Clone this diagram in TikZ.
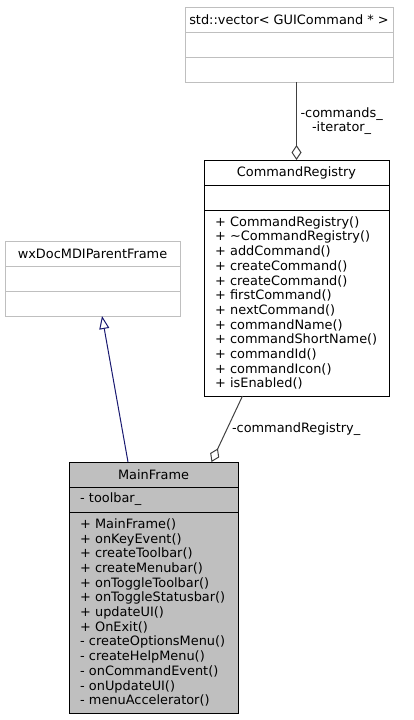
\documentclass[tikz,border=0pt]{standalone}
\usepackage{fontspec}
\setmainfont{DejaVu Sans}
\usepackage{tikz}
\usetikzlibrary{arrows.meta,positioning,calc}
\definecolor{umlgray}{RGB}{191,191,191}
\definecolor{umlnavy}{RGB}{25,25,112}
\definecolor{umledge}{RGB}{64,64,64}

\begin{document}
\begin{tikzpicture}[x=1pt, y=-1pt, node distance=0pt,
  every node/.style={font=\fontsize{12.9}{14.7}\selectfont, outer sep=0pt, line width=1pt},
  cls/.style={draw, minimum height=25pt, inner sep=0pt},
  ops/.style={cls, align=left, inner xsep=11pt},
  aggr/.style={draw=umledge, line width=1pt, {Diamond[open,length=15pt,width=10pt]}-},
  inherit/.style={draw=umlnavy, line width=1pt, -{Triangle[open,length=13pt,width=10pt]}}]
\useasboundingbox (0,0) rectangle (413,720);
% std::vector
\node[cls, draw=umlgray, minimum width=208pt, anchor=north] (vec) at (289,7) {std::vector< GUICommand * >};
\node[cls, draw=umlgray, minimum width=208pt, below=of vec] (vecattr) {};
\node[cls, draw=umlgray, minimum width=208pt, below=of vecattr] (vecops) {};
% CommandRegistry
\node[cls, minimum width=185pt, anchor=north] (reg) at (296.5,160) {CommandRegistry};
\node[cls, minimum width=185pt, below=of reg] (regattr) {};
\node[ops, text width=163pt, minimum height=186pt, below=of regattr] (regops) {+ CommandRegistry()\\+ \textasciitilde CommandRegistry()\\+ addCommand()\\+ createCommand()\\+ createCommand()\\+ firstCommand()\\+ nextCommand()\\+ commandName()\\+ commandShortName()\\+ commandId()\\+ commandIcon()\\+ isEnabled()};
% wxDocMDIParentFrame
\node[cls, draw=umlgray, minimum width=175pt, anchor=north] (wx) at (92.5,241) {wxDocMDIParentFrame};
\node[cls, draw=umlgray, minimum width=175pt, below=of wx] (wxattr) {};
\node[cls, draw=umlgray, minimum width=175pt, below=of wxattr] (wxops) {};
% MainFrame
\node[cls, fill=umlgray, minimum width=169pt, anchor=north] (main) at (153.5,462) {MainFrame};
\node[ops, fill=umlgray, text width=147pt, below=of main] (mainattr) {- toolbar\_};
\node[ops, fill=umlgray, text width=147pt, minimum height=201pt, below=of mainattr] (mainops) {+ MainFrame()\\+ onKeyEvent()\\+ createToolbar()\\+ createMenubar()\\+ onToggleToolbar()\\+ onToggleStatusbar()\\+ updateUI()\\+ OnExit()\\- createOptionsMenu()\\- createHelpMenu()\\- onCommandEvent()\\- onUpdateUI()\\- menuAccelerator()};
% connectors
\draw[aggr] (reg.north) -- (reg.north |- vecops.south) node[midway, right, align=center, inner sep=4pt] {-commands\_\\-iterator\_};
\draw[aggr] ($(main.north)+(58,0)$) -- ($(regops.south)+(-54,0)$) node[midway, right, inner sep=5pt] {-commandRegistry\_};
\draw[inherit] ($(main.north)+(-25.5,0)$) -- ($(wxops.south)+(9.5,0)$);
\end{tikzpicture}
\end{document}
